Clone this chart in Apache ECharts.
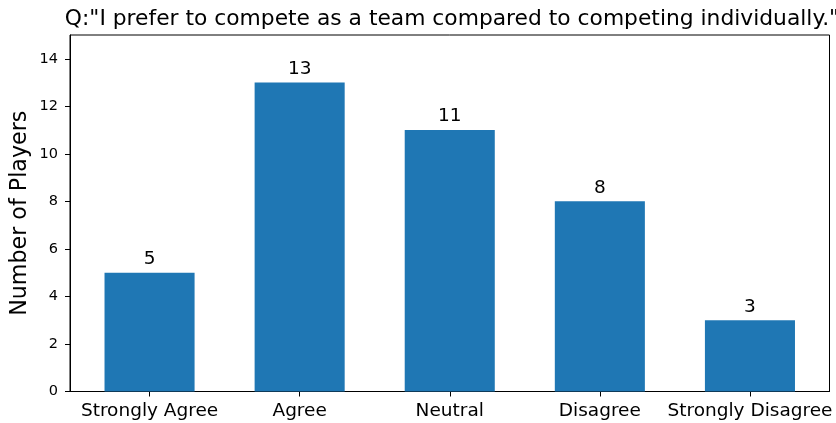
<!DOCTYPE html>
<html>
<head>
<meta charset="utf-8">
<script src="https://cdn.jsdelivr.net/npm/echarts@6/dist/echarts.min.js"></script>
<style>
  html, body { margin: 0; padding: 0; background: #fff; }
  #chart { width: 836px; height: 423px; }
</style>
</head>
<body>
<div id="chart"></div>
<script>
// Survey responses
const categories = ['Strongly Agree', 'Agree', 'Neutral', 'Disagree', 'Strongly Disagree'];
const players = [5, 13, 11, 8, 3];
const yTicks = [0, 2, 4, 6, 8, 10, 12, 14];
const xTicks = [0, 1, 2, 3, 4];

const FONT = '"DejaVu Sans", sans-serif';
const chart = echarts.init(document.getElementById('chart'), null, { renderer: 'canvas' });

chart.setOption({
  animation: false,
  title: {
    text: 'Q:"I prefer to compete as a team compared to competing individually."',
    left: 447,
    textAlign: 'center',
    top: 3,
    textStyle: { fontFamily: FONT, fontSize: 21.8, fontWeight: 'normal', color: '#000' }
  },
  grid: { left: 70, right: 6.5, top: 35, bottom: 31.5, containLabel: false,
          show: true, borderColor: '#000', borderWidth: 1 },
  xAxis: {
    type: 'value',
    min: -0.53,
    max: 4.53,
    splitLine: { show: false },
    axisLine: { show: true, onZero: false, lineStyle: { color: '#000', width: 1 } },
    axisTick: { show: true, length: 5, customValues: xTicks, lineStyle: { color: '#000' } },
    axisLabel: {
      customValues: xTicks,
      formatter: v => categories[Math.round(v)],
      fontFamily: FONT, fontSize: 18.5, color: '#000', margin: 10
    }
  },
  yAxis: {
    type: 'value',
    min: 0,
    max: 15,
    name: 'Number of Players',
    nameLocation: 'middle',
    nameGap: 39,
    nameMoveOverlap: false,
    nameTextStyle: { fontFamily: FONT, fontSize: 22.2, color: '#000' },
    splitLine: { show: false },
    axisLine: { show: true, onZero: false, lineStyle: { color: '#000', width: 1 } },
    axisTick: { show: true, length: 5, customValues: yTicks, lineStyle: { color: '#000' } },
    axisLabel: { customValues: yTicks, fontFamily: FONT, fontSize: 14.5, color: '#000', margin: 12 }
  },
  series: [{
    type: 'bar',
    data: players.map((v, i) => [xTicks[i], v]),
    barWidth: '60%',
    itemStyle: { color: '#1f77b4' },
    label: {
      show: true,
      position: 'top',
      distance: 4,
      formatter: p => p.value[1],
      fontFamily: FONT, fontSize: 18.5, color: '#000'
    }
  }]
});
</script>
</body>
</html>
